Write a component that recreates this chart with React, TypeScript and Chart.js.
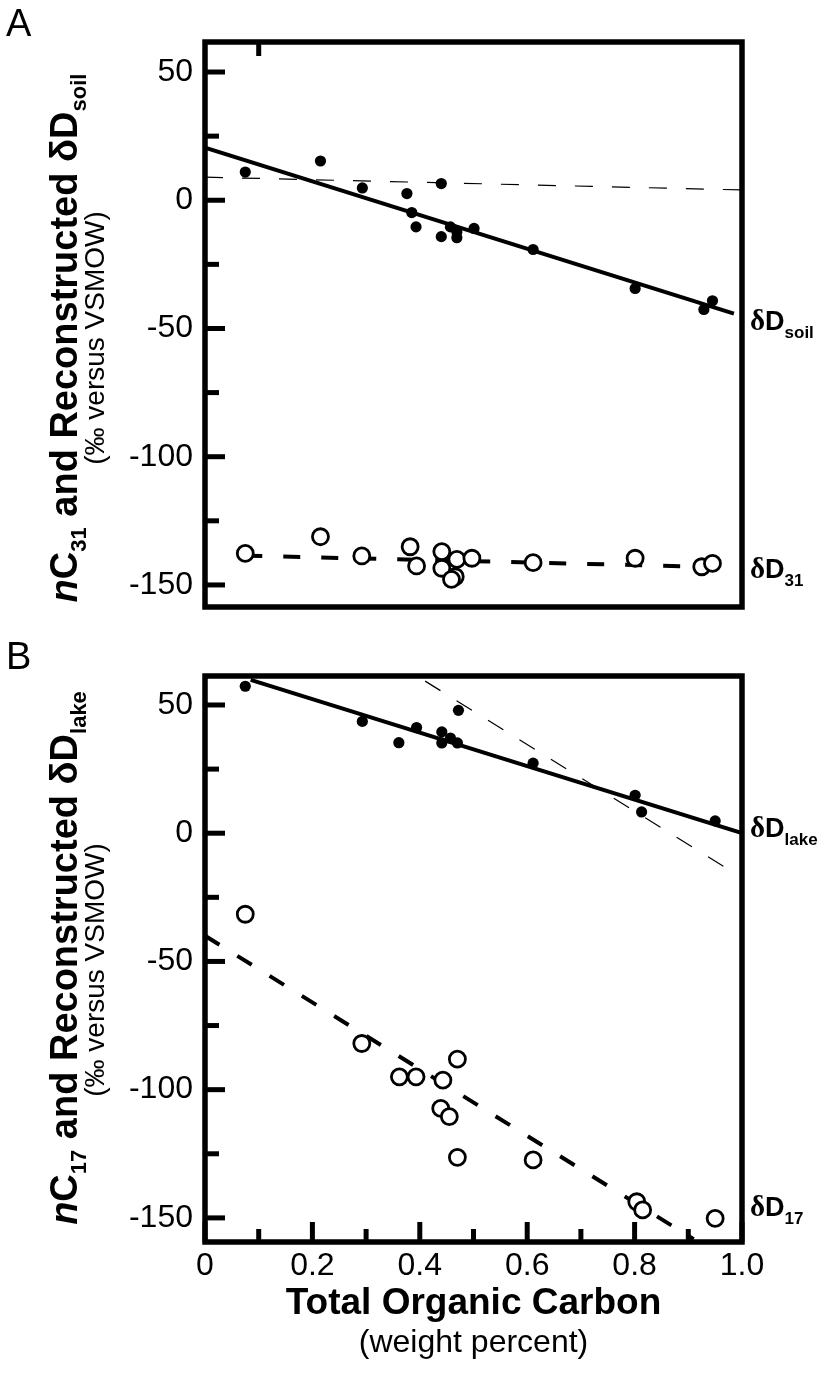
import React, { useEffect, useRef } from 'react';
import { Chart, registerables } from 'chart.js';

Chart.register(...registerables);

const SANS = '"Liberation Sans", Arial, Helvetica, sans-serif';
const SERIF = '"Liberation Serif", "Times New Roman", serif';

// ---------- axis ticks ----------
const yMajorTicks = [50, 0, -50, -100, -150];
const yMinorTicks = [25, -25, -75, -125];
const xMajorTicks = [0, 0.2, 0.4, 0.6, 0.8, 1.0];
const xMinorTicks = [0.1, 0.3, 0.5, 0.7, 0.9];

// ---------- Panel A : soil ----------
const soilX = [0.075, 0.215, 0.293, 0.376, 0.44, 0.385, 0.393, 0.44, 0.457, 0.469, 0.469, 0.501, 0.611, 0.801, 0.929, 0.945];
const soilY = [11, 15.3, 4.8, 2.6, 6.5, -4.8, -10.4, -14.2, -10.4, -12.4, -14.6, -11.0, -19.2, -34.4, -42.6, -39.2];
const d31X = [0.075, 0.215, 0.292, 0.382, 0.394, 0.441, 0.441, 0.469, 0.466, 0.459, 0.497, 0.611, 0.801, 0.925, 0.945];
const d31Y = [-137.7, -131.2, -138.7, -135.1, -142.6, -137, -143.5, -140, -146.8, -147.8, -139.6, -141.3, -139.6, -142.9, -141.6];
const soilFitX = [0, 0.985];
const soilFitY = [20.5, -44.2];
const soilThinFitX = [0, 1.0];
const soilThinFitY = [9, 4];
const d31FitX = [0.075, 0.99];
const d31FitY = [-138.6, -143.2];

// ---------- Panel B : lake ----------
const lakeX = [0.075, 0.293, 0.361, 0.394, 0.441, 0.441, 0.457, 0.47, 0.472, 0.611, 0.801, 0.813, 0.95];
const lakeY = [57.3, 43.6, 35.3, 41.2, 39.5, 35.2, 37.1, 35.2, 47.9, 27.3, 14.8, 8.3, 4.8];
const d17X = [0.075, 0.292, 0.362, 0.393, 0.443, 0.47, 0.439, 0.455, 0.47, 0.611, 0.804, 0.815, 0.95];
const d17Y = [-31.6, -82, -95, -95, -96.3, -88.1, -107.3, -110.5, -126.4, -127.4, -143.7, -146.9, -150.2];
const lakeFitX = [0.085, 1.0];
const lakeFitY = [59.8, 0];
const lakeThinFitX = [0.41, 0.966];
const lakeThinFitY = [59.3, -13];
const d17FitX = [0, 0.91];
const d17FitY = [-40, -158.3];

const pts = (xs: number[], ys: number[]) => xs.map((x, i) => ({ x, y: ys[i] }));

type Run = { t: string; f: string; dy?: number };

function drawRuns(ctx: CanvasRenderingContext2D, runs: Run[], x: number, y: number, align: 'left' | 'center') {
  let w = 0;
  for (const r of runs) {
    ctx.font = r.f;
    w += ctx.measureText(r.t).width;
  }
  let cx = align === 'center' ? x - w / 2 : x;
  ctx.textAlign = 'left';
  ctx.textBaseline = 'alphabetic';
  for (const r of runs) {
    ctx.font = r.f;
    ctx.fillText(r.t, cx, y + (r.dy || 0));
    cx += ctx.measureText(r.t).width;
  }
}

const B38 = `bold 38px ${SANS}`;
const B22 = `bold 22px ${SANS}`;

interface PanelCfg {
  height: number;
  top: number;
  padTop: number;
  xAxisH: number;
  yMin: number;
  yMax: number;
  showXLabels: boolean;
  letter: string;
  letterY: number;
  titleRuns: Run[];
  titleCY: number;
  subCY: number;
  rightLabels: { runs: Run[]; value: number }[];
  topTicks: number[];
  bottomTicks: boolean;
  datasets: any[];
}

function rightLabel(sub: string): Run[] {
  return [
    { t: 'δ', f: `bold 29px ${SERIF}` },
    { t: 'D', f: `bold 27px ${SANS}` },
    { t: sub, f: `bold 17px ${SANS}`, dy: 8 },
  ];
}

function makeDatasets(
  dots: { x: number; y: number }[],
  rings: { x: number; y: number }[],
  solid: { x: number; y: number }[],
  thin: { x: number; y: number }[],
  dashed: { x: number; y: number }[]
) {
  return [
    { type: 'scatter', data: dots, pointRadius: 5.6, pointBackgroundColor: '#000', pointBorderColor: '#000', pointBorderWidth: 0, order: 1 },
    { type: 'scatter', data: rings, pointRadius: 8, pointBackgroundColor: '#fff', pointBorderColor: '#000', pointBorderWidth: 2.8, order: 0 },
    { type: 'scatter', data: solid, showLine: true, pointRadius: 0, borderColor: '#000', borderWidth: 4, clip: 0, order: 3 },
    { type: 'scatter', data: thin, showLine: true, pointRadius: 0, borderColor: '#000', borderWidth: 1.2, borderDash: [18, 19], clip: 0, order: 3 },
    { type: 'scatter', data: dashed, showLine: true, pointRadius: 0, borderColor: '#000', borderWidth: 4, borderDash: [17, 21], clip: 0, order: 3 },
  ];
}

const panelA: PanelCfg = {
  height: 640,
  top: 0,
  padTop: 42,
  xAxisH: 33,
  yMin: -158.6,
  yMax: 61.7,
  showXLabels: false,
  letter: 'A',
  letterY: 36,
  titleRuns: [
    { t: 'n', f: `italic bold 38px ${SANS}` },
    { t: 'C', f: B38 },
    { t: '31', f: B22, dy: 9 },
    { t: ' and Reconstructed ', f: B38 },
    { t: 'δ', f: B38 },
    { t: 'D', f: B38 },
    { t: 'soil', f: B22, dy: 9 },
  ],
  titleCY: 338,
  subCY: 338,
  rightLabels: [
    { runs: rightLabel('soil'), value: -50.7 },
    { runs: rightLabel('31'), value: -147.3 },
  ],
  topTicks: [0.1],
  bottomTicks: false,
  datasets: makeDatasets(pts(soilX, soilY), pts(d31X, d31Y), pts(soilFitX, soilFitY), pts(soilThinFitX, soilThinFitY), pts(d31FitX, d31FitY)),
};

const panelB: PanelCfg = {
  height: 733,
  top: 640,
  padTop: 36,
  xAxisH: 131,
  yMin: -159.4,
  yMax: 61.3,
  showXLabels: true,
  letter: 'B',
  letterY: 29,
  titleRuns: [
    { t: 'n', f: `italic bold 38px ${SANS}` },
    { t: 'C', f: B38 },
    { t: '17', f: B22, dy: 9 },
    { t: ' and Reconstructed ', f: B38 },
    { t: 'δ', f: B38 },
    { t: 'D', f: B38 },
    { t: 'lake', f: B22, dy: 9 },
  ],
  titleCY: 318,
  subCY: 330,
  rightLabels: [
    { runs: rightLabel('lake'), value: -1.6 },
    { runs: rightLabel('17'), value: -149.2 },
  ],
  topTicks: [],
  bottomTicks: true,
  datasets: makeDatasets(pts(lakeX, lakeY), pts(d17X, d17Y), pts(lakeFitX, lakeFitY), pts(lakeThinFitX, lakeThinFitY), pts(d17FitX, d17FitY)),
};

function makePlugin(cfg: PanelCfg) {
  return {
    id: 'decor' + cfg.letter,
    afterDraw(chart: any) {
      const ctx: CanvasRenderingContext2D = chart.ctx;
      const { left, right, top, bottom } = chart.chartArea;
      const xs = chart.scales.x;
      const ys = chart.scales.y;
      ctx.save();
      ctx.fillStyle = '#000';
      ctx.strokeStyle = '#000';
      ctx.lineCap = 'butt';
      // ticks (inward)
      ctx.lineWidth = 5;
      const tickY = (v: number, len: number) => {
        const p = ys.getPixelForValue(v);
        ctx.beginPath();
        ctx.moveTo(left, p);
        ctx.lineTo(left + len, p);
        ctx.stroke();
      };
      yMajorTicks.forEach((v) => tickY(v, 20));
      yMinorTicks.forEach((v) => tickY(v, 14));
      if (cfg.bottomTicks) {
        const tickX = (v: number, len: number) => {
          const p = xs.getPixelForValue(v);
          ctx.beginPath();
          ctx.moveTo(p, bottom);
          ctx.lineTo(p, bottom - len);
          ctx.stroke();
        };
        xMajorTicks.forEach((v) => tickX(v, 20));
        xMinorTicks.forEach((v) => tickX(v, 13));
      }
      cfg.topTicks.forEach((v) => {
        const p = xs.getPixelForValue(v);
        ctx.beginPath();
        ctx.moveTo(p, top);
        ctx.lineTo(p, top + 14);
        ctx.stroke();
      });
      // frame
      ctx.lineWidth = 5.5;
      ctx.strokeRect(left, top, right - left, bottom - top);

      // panel letter
      ctx.font = `38px ${SANS}`;
      ctx.textAlign = 'left';
      ctx.textBaseline = 'alphabetic';
      ctx.fillText(cfg.letter, 6, cfg.letterY);

      // y title (rotated)
      ctx.save();
      ctx.translate(77, cfg.titleCY);
      ctx.rotate(-Math.PI / 2);
      drawRuns(ctx, cfg.titleRuns, 0, 0, 'center');
      ctx.restore();
      ctx.save();
      ctx.translate(104, cfg.subCY);
      ctx.rotate(-Math.PI / 2);
      drawRuns(ctx, [{ t: '(‰ versus VSMOW)', f: `28px ${SANS}` }], 0, 0, 'center');
      ctx.restore();

      // right labels
      cfg.rightLabels.forEach((l) => {
        drawRuns(ctx, l.runs, right + 8, ys.getPixelForValue(l.value), 'left');
      });

      // x title
      if (cfg.showXLabels) {
        const cx = (left + right) / 2;
        drawRuns(ctx, [{ t: 'Total Organic Carbon', f: `bold 37px ${SANS}` }], cx, bottom + 72, 'center');
        drawRuns(ctx, [{ t: '(weight percent)', f: `32px ${SANS}` }], cx, bottom + 110, 'center');
      }
      ctx.restore();
    },
  };
}

function Panel({ cfg }: { cfg: PanelCfg }) {
  const ref = useRef<HTMLCanvasElement>(null);
  useEffect(() => {
    if (!ref.current) return;
    const chart = new Chart(ref.current, {
      type: 'scatter',
      data: { datasets: cfg.datasets as any },
      options: {
        animation: false,
        responsive: false,
        devicePixelRatio: 1,
        layout: { padding: { left: 0, right: 83, top: cfg.padTop, bottom: 0 } },
        plugins: { legend: { display: false }, tooltip: { enabled: false } },
        scales: {
          x: {
            type: 'linear',
            min: 0,
            max: 1,
            afterBuildTicks: (s: any) => {
              s.ticks = xMajorTicks.map((v) => ({ value: v }));
            },
            afterFit: (s: any) => {
              s.height = cfg.xAxisH;
            },
            grid: { display: false, drawTicks: false },
            border: { display: false },
            ticks: {
              display: cfg.showXLabels,
              color: '#000',
              padding: 5,
              font: { family: SANS, size: 32 },
              callback: (v: any) => (v === 0 ? '0' : Number(v).toFixed(1)),
            },
          },
          y: {
            type: 'linear',
            min: cfg.yMin,
            max: cfg.yMax,
            afterBuildTicks: (s: any) => {
              s.ticks = yMajorTicks.map((v) => ({ value: v }));
            },
            afterFit: (s: any) => {
              s.width = 205;
            },
            grid: { display: false, drawTicks: false },
            border: { display: false },
            ticks: {
              color: '#000',
              padding: 12,
              font: { family: SANS, size: 32 },
              callback: (v: any) => String(v),
            },
          },
        },
      },
      plugins: [makePlugin(cfg)],
    });
    return () => chart.destroy();
  }, [cfg]);
  return (
    <canvas
      ref={ref}
      width={825}
      height={cfg.height}
      style={{ position: 'absolute', left: 0, top: cfg.top, width: 825, height: cfg.height }}
    />
  );
}

export default function App() {
  return (
    <div style={{ position: 'absolute', left: 0, top: 0, width: 825, height: 1373, background: '#fff' }}>
      <Panel cfg={panelA} />
      <Panel cfg={panelB} />
    </div>
  );
}
